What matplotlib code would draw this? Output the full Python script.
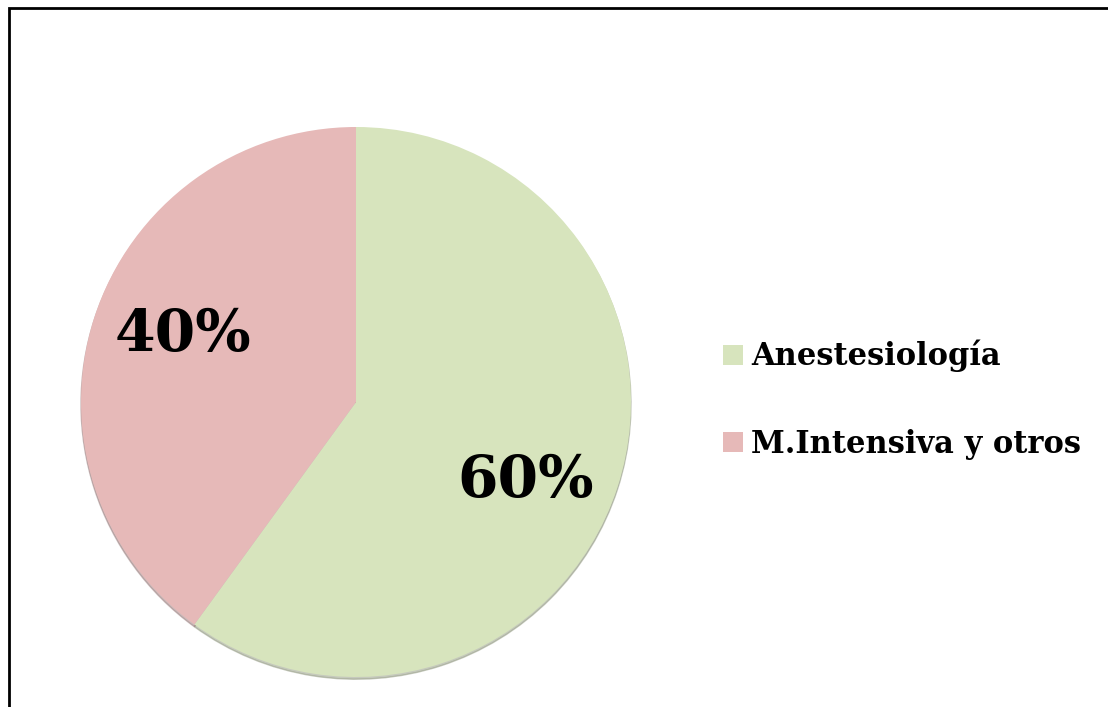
import matplotlib.pyplot as plt
from matplotlib.patches import Rectangle

# ── Data ──────────────────────────────────────────────────────────────────────
labels = ["Anestesiología", "M.Intensiva y otros"]
values = [60, 40]
colors = ["#d7e4bd", "#e6b9b8"]

W, H = 1108, 707

fig = plt.figure(figsize=(W / 100, H / 100), dpi=100)
ax = fig.add_axes([0, 0, 1, 1])

wedges, texts, autotexts = ax.pie(
    values, colors=colors, startangle=90, counterclock=False,
    center=(356, H - 402), radius=275, autopct="%1.0f%%", pctdistance=0.67,
    shadow={"ox": 0, "oy": -1.6, "shade": 0.35},
    textprops=dict(family="DejaVu Serif", fontweight="bold", fontsize=42, color="black"),
)
# pie() resets the limits, so set them afterwards
ax.set_xlim(0, W)
ax.set_ylim(0, H)
ax.set_aspect("equal")
ax.axis("off")

# nudge the percent labels a bit (pixels) to sit like the original
for t, (dx, dy) in zip(autotexts, [(-6, -22), (2, 10)]):
    x, y = t.get_position()
    t.set_position((x + dx, y + dy))

fig.legend(wedges, labels, loc="upper left", bbox_to_anchor=(723 / W, 1 - 340 / H),
           frameon=False, prop=dict(family="DejaVu Serif", weight="bold", size=22),
           handlelength=0.65, handleheight=0.65, handletextpad=0.28, labelspacing=1.85,
           borderpad=0, borderaxespad=0)

# outer frame
fig.patches.append(Rectangle((9 / W, -0.05), 1.2, 1 - 8 / H + 0.05, transform=fig.transFigure,
                             fill=False, edgecolor="black", lw=2))

fig.savefig("out.png", dpi=100)
